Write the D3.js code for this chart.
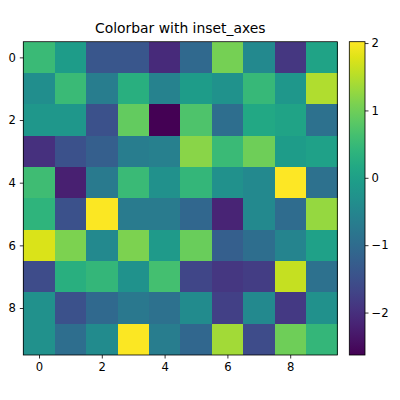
<!DOCTYPE html>
<head>
<meta charset="utf-8">
<script src="https://cdn.jsdelivr.net/npm/d3@7"></script>
<style>
body { margin: 0; background: #fff; }
text { font-family: "DejaVu Sans", sans-serif; fill: #000; }
</style>
</head>
<body>
<script>

// row by row
var rows = [0, 1, 2, 3, 4, 5, 6, 7, 8, 9];
var cols = [0, 1, 2, 3, 4, 5, 6, 7, 8, 9];
var values = [
  [ 0.53, -0.07, -1.38, -1.38, -2.08, -1.05,  1.05, -0.45, -1.89,  0.07],
  [-0.35,  0.53, -0.68,  0.30, -0.58, -0.07, -0.26,  0.49, -0.17,  1.47],
  [-0.17, -0.17, -1.47,  0.91, -2.63,  0.72, -0.96,  0.16,  0.07, -0.91],
  [-1.99, -1.47, -1.24, -0.68, -0.63,  1.19,  0.53,  1.00, -0.07,  0.02],
  [ 0.58, -2.22, -0.73,  0.53, -0.30,  0.44, -0.30, -0.45,  2.02, -0.91],
  [ 0.40, -1.47,  2.00, -0.72, -0.72, -1.10, -2.17, -0.45, -1.00,  1.28],
  [ 1.75,  1.10, -0.45,  1.10, -0.12,  0.96, -1.24, -0.96, -0.54,  0.02],
  [-1.57,  0.30,  0.44, -0.26,  0.63, -1.66, -1.89, -1.80,  1.61, -0.91],
  [-0.30, -1.47, -1.05, -0.77, -0.91, -0.40, -1.75, -0.45, -1.85, -0.30],
  [-0.30, -0.96, -0.40,  2.00, -0.68, -1.10,  1.38, -1.57,  1.00,  0.44]
];
var axisTicks = [0, 2, 4, 6, 8];
var barTicks = [-2, -1, 0, 1, 2];
var title = "Colorbar with inset_axes";

var width = 400, height = 400;
var L = 23.3, R = 337.3, T = 41.7, B = 355;
var cbL = 349.3, cbR = 365;

var svg = d3.select("body").append("svg")
  .attr("width", width)
  .attr("height", height);

var x = d3.scaleLinear().domain([-0.5, 9.5]).range([L, R]);
var y = d3.scaleLinear().domain([-0.5, 9.5]).range([T, B]);

var vmin = d3.min(values, function (r) { return d3.min(r); });
var vmax = d3.max(values, function (r) { return d3.max(r); });
var color = d3.scaleSequential(d3.interpolateViridis).domain([vmin, vmax]);

// cells
var cells = [];
rows.forEach(function (i) {
  cols.forEach(function (j) {
    cells.push({ r: i, c: j, v: values[i][j] });
  });
});

svg.append("g").selectAll("rect")
  .data(cells)
  .enter().append("rect")
  .attr("x", function (d) { return x(d.c - 0.5); })
  .attr("y", function (d) { return y(d.r - 0.5); })
  .attr("width", x(0.5) - x(-0.5) + 0.3)
  .attr("height", y(0.5) - y(-0.5) + 0.3)
  .attr("fill", function (d) { return color(d.v); })
  .attr("shape-rendering", "crispEdges");

svg.append("rect")
  .attr("x", L).attr("y", T)
  .attr("width", R - L).attr("height", B - T)
  .attr("fill", "none").attr("stroke", "#000").attr("stroke-width", 0.8);

// axes
var xAxis = d3.axisBottom(x).tickValues(axisTicks).tickSize(3.5).tickPadding(4);
var gx = svg.append("g").attr("transform", "translate(0," + B + ")").call(xAxis);
var yAxis = d3.axisLeft(y).tickValues(axisTicks).tickSize(3.5).tickPadding(4);
var gy = svg.append("g").attr("transform", "translate(" + L + ",0)").call(yAxis);

[gx, gy].forEach(function (g) {
  g.select(".domain").remove();
  g.selectAll("line").attr("stroke", "#000").attr("stroke-width", 0.8);
  g.selectAll("text").style("font-size", "11.6px").style("font-family", "DejaVu Sans").attr("fill", "#000");
});

// colorbar
var cy = d3.scaleLinear().domain([vmin, vmax]).range([B, T]);
var defs = svg.append("defs");
var grad = defs.append("linearGradient").attr("id", "cb")
  .attr("x1", 0).attr("y1", 1).attr("x2", 0).attr("y2", 0);
d3.range(0, 1.0001, 0.05).forEach(function (t) {
  grad.append("stop").attr("offset", t).attr("stop-color", d3.interpolateViridis(t));
});
svg.append("rect")
  .attr("x", cbL).attr("y", T)
  .attr("width", cbR - cbL).attr("height", B - T)
  .attr("fill", "url(#cb)")
  .attr("stroke", "#000").attr("stroke-width", 0.8);

var cAxis = d3.axisRight(cy).tickValues(barTicks).tickSize(3.5).tickPadding(3)
  .tickFormat(function (d) { return d < 0 ? "\u2212" + Math.abs(d) : d; });
var gc = svg.append("g").attr("transform", "translate(" + cbR + ",0)").call(cAxis);
gc.select(".domain").remove();
gc.selectAll("line").attr("stroke", "#000").attr("stroke-width", 0.8);
gc.selectAll("text").style("font-size", "11.6px").style("font-family", "DejaVu Sans").attr("fill", "#000");

svg.append("text")
  .attr("x", (L + R) / 2)
  .attr("y", 32.5)
  .attr("text-anchor", "middle")
  .style("font-size", "13.9px")
  .text(title);

</script>
</body>
</html>
